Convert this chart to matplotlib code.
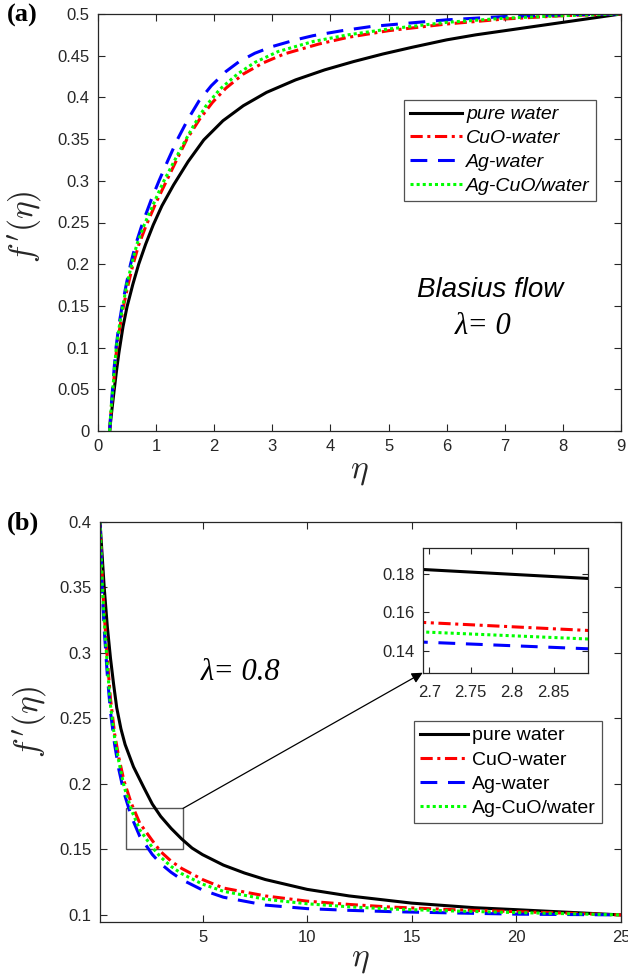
import matplotlib
matplotlib.use("Agg")
import matplotlib.pyplot as plt
from matplotlib.patches import Rectangle
from matplotlib.ticker import FuncFormatter

plt.rcParams['mathtext.fontset'] = 'cm'

# (a) Blasius flow, lambda = 0
eta_a_pw = [0.2, 0.24, 0.28, 0.32, 0.36, 0.43, 0.5, 0.6, 0.7, 0.82, 0.95, 1.1, 1.3, 1.55, 1.82, 2.15,
            2.5, 2.9, 3.4, 3.9, 4.4, 4.9, 5.4, 6.0, 6.5, 7.0, 7.5, 8.0, 8.5, 9.0]
fp_a_pw = [0.0, 0.026, 0.05, 0.073, 0.094, 0.125, 0.149, 0.176, 0.2, 0.224, 0.247, 0.27, 0.295, 0.323,
           0.349, 0.372, 0.39, 0.406, 0.421, 0.433, 0.443, 0.452, 0.46, 0.469, 0.475, 0.48, 0.485,
           0.49, 0.495, 0.5]
eta_a_cuo = [0.2, 0.23, 0.26, 0.29, 0.32, 0.38, 0.44, 0.52, 0.6, 0.7, 0.82, 1.0, 1.18, 1.36, 1.53, 1.75,
             1.97, 2.2, 2.5, 2.83, 3.2, 3.8, 4.3, 5.0, 5.5, 6.0, 7.0, 8.0, 9.0]
fp_a_cuo = [0.0, 0.03, 0.05, 0.075, 0.098, 0.126, 0.15, 0.176, 0.199, 0.223, 0.245, 0.274, 0.3, 0.326,
            0.35, 0.374, 0.394, 0.411, 0.428, 0.441, 0.452, 0.464, 0.472, 0.48, 0.484, 0.488, 0.494,
            0.498, 0.5]
eta_a_ag = [0.2, 0.23, 0.25, 0.28, 0.31, 0.36, 0.42, 0.49, 0.56, 0.65, 0.77, 0.92, 1.05, 1.2, 1.37, 1.55,
            1.74, 1.95, 2.2, 2.43, 2.7, 3.0, 3.4, 3.7, 4.2, 4.7, 5.5, 6.0, 7.0, 8.0, 9.0]
fp_a_ag = [0.0, 0.032, 0.05, 0.077, 0.1, 0.127, 0.152, 0.177, 0.2, 0.224, 0.25, 0.278, 0.3, 0.324,
           0.35, 0.374, 0.396, 0.414, 0.431, 0.443, 0.453, 0.461, 0.469, 0.474, 0.48, 0.485, 0.49,
           0.493, 0.497, 0.499, 0.5]
eta_a_hyb = [0.2, 0.23, 0.255, 0.285, 0.315, 0.37, 0.43, 0.5, 0.58, 0.67, 0.8, 0.96, 1.12, 1.3, 1.46, 1.66,
             1.86, 2.1, 2.4, 2.7, 3.1, 3.7, 4.3, 5.0, 5.5, 6.0, 7.0, 8.0, 9.0]
fp_a_hyb = [0.0, 0.031, 0.05, 0.076, 0.1, 0.127, 0.151, 0.177, 0.2, 0.224, 0.248, 0.273, 0.298, 0.322,
            0.343, 0.368, 0.39, 0.41, 0.428, 0.442, 0.455, 0.467, 0.475, 0.482, 0.486, 0.49, 0.495,
            0.498, 0.5]

# (b) lambda = 0.8
eta_b_pw = [0.1, 0.2, 0.3, 0.45, 0.6, 0.75, 0.9, 1.1, 1.3, 1.7, 2.2, 2.6, 3.0, 3.5, 4.0, 4.5, 5.0, 6.0,
            7.0, 8.0, 10.0, 12.0, 15.0, 18.0, 20.0, 22.5, 25.0]
fp_b_pw = [0.4, 0.375, 0.35, 0.32, 0.296, 0.276, 0.258, 0.242, 0.23, 0.213, 0.197, 0.1846, 0.1752, 0.166,
           0.158, 0.151, 0.146, 0.138, 0.132, 0.127, 0.1195, 0.1145, 0.109, 0.1055, 0.104, 0.102, 0.1]
eta_b = [0.1, 0.2, 0.3, 0.45, 0.6, 0.8, 1.0, 1.25, 1.6, 2.0, 2.6, 3.0, 3.5, 4.0, 5.0, 6.0, 8.0, 10.0,
         12.0, 14.0, 17.0, 20.0, 25.0]
fp_b_cuo = [0.4, 0.36, 0.33, 0.295, 0.265, 0.238, 0.22, 0.202, 0.185, 0.17, 0.1567, 0.1483, 0.141, 0.1355,
            0.127, 0.1205, 0.1145, 0.1105, 0.108, 0.106, 0.104, 0.1025, 0.1]
fp_b_ag = [0.4, 0.35, 0.318, 0.283, 0.255, 0.23, 0.211, 0.193, 0.175, 0.16, 0.1461, 0.1391, 0.1325, 0.127,
           0.119, 0.1135, 0.1075, 0.1048, 0.1035, 0.1025, 0.1015, 0.1006, 0.1]
fp_b_hyb = [0.4, 0.355, 0.325, 0.29, 0.26, 0.235, 0.217, 0.198, 0.18, 0.165, 0.1515, 0.1441, 0.137, 0.1315,
            0.1235, 0.118, 0.112, 0.1085, 0.1062, 0.1045, 0.103, 0.1018, 0.1]

labels = ['pure water', 'CuO-water', 'Ag-water', 'Ag-CuO/water']
colors = ['black', 'red', 'blue', '#00ff00']
styles = ['-', (0, (4, 1.5, 1, 1.5)), (0, (5.5, 3.5)), (0, (1, 1))]
lw = 2.2
axcol = '#262626'
fmt = FuncFormatter(lambda v, p: '{:g}'.format(round(v, 4)))


def style_axes(ax, size=12):
    ax.tick_params(direction='in', top=True, right=True, length=5, width=0.8,
                   colors=axcol, labelsize=size, pad=6)
    for lab in ax.get_xticklabels() + ax.get_yticklabels():
        lab.set_fontfamily('Liberation Sans')
    for s in ax.spines.values():
        s.set_color(axcol)
        s.set_linewidth(0.9)


fig = plt.figure(figsize=(6.28, 9.75), dpi=100)

# ---------- panel (a) ----------
ax1 = fig.add_axes([98 / 628, 1 - 431 / 975, 523 / 628, 417 / 975])
series_a = [(eta_a_pw, fp_a_pw), (eta_a_cuo, fp_a_cuo), (eta_a_ag, fp_a_ag), (eta_a_hyb, fp_a_hyb)]
for (x, y), lab, c, ls in zip(series_a, labels, colors, styles):
    ax1.plot(x, y, color=c, linestyle=ls, lw=lw, label=lab)
ax1.set_xlim(0, 9)
ax1.set_ylim(0, 0.5)
ax1.set_xticks(range(0, 10))
ax1.set_yticks([i * 0.05 for i in range(11)])
ax1.xaxis.set_major_formatter(fmt)
ax1.yaxis.set_major_formatter(fmt)
style_axes(ax1)
ax1.set_ylabel(r"$f\,'(\eta)$", fontsize=24, color=axcol)
ax1.yaxis.set_label_coords(-0.105, 0.49)
ax1.set_xlabel(r"$\eta$", fontsize=24, color=axcol)
ax1.xaxis.set_label_coords(0.5, -0.055)
leg1 = ax1.legend(loc='upper left', bbox_to_anchor=(404 / 628, 1 - 100 / 975),
                  bbox_transform=fig.transFigure, borderaxespad=0, borderpad=0.3,
                  handlelength=2.7, handletextpad=0.2, labelspacing=0.32,
                  fancybox=False, edgecolor=axcol,
                  prop={'family': 'Liberation Sans', 'style': 'italic', 'size': 14})
leg1.get_frame().set_linewidth(0.9)
ax1.text(490 / 628, 1 - 290 / 975, 'Blasius flow', transform=fig.transFigure,
         ha='center', va='center', fontsize=20, style='italic', family='Liberation Sans')
ax1.text(483 / 628, 1 - 326 / 975, 'λ= 0', transform=fig.transFigure,
         ha='center', va='center', fontsize=22, style='italic', family='Liberation Serif')
fig.text(7 / 628, 1 - 15 / 975, '(a)', ha='left', va='center', fontsize=19,
         fontweight='bold', family='Liberation Serif')

# ---------- panel (b) ----------
ax2 = fig.add_axes([100 / 628, 1 - 922 / 975, 521 / 628, 400.3 / 975])
series_b = [(eta_b_pw, fp_b_pw), (eta_b, fp_b_cuo), (eta_b, fp_b_ag), (eta_b, fp_b_hyb)]
for (x, y), lab, c, ls in zip(series_b, labels, colors, styles):
    ax2.plot(x, y, color=c, linestyle=ls, lw=lw, label=lab)
ax2.set_xlim(0.1, 25)
ax2.set_ylim(0.0946, 0.4)
ax2.set_xticks([5, 10, 15, 20, 25])
ax2.set_yticks([0.1, 0.15, 0.2, 0.25, 0.3, 0.35, 0.4])
ax2.xaxis.set_major_formatter(fmt)
ax2.yaxis.set_major_formatter(fmt)
style_axes(ax2)
ax2.set_ylabel(r"$f\,'(\eta)$", fontsize=24, color=axcol)
ax2.yaxis.set_label_coords(-0.1, 0.5)
ax2.set_xlabel(r"$\eta$", fontsize=24, color=axcol)
ax2.xaxis.set_label_coords(0.5, -0.05)
leg2 = ax2.legend(loc='upper left', bbox_to_anchor=(414 / 628, 1 - 721 / 975),
                  bbox_transform=fig.transFigure, borderaxespad=0, borderpad=0.3,
                  handlelength=2.5, handletextpad=0.2, labelspacing=0.34,
                  fancybox=False, edgecolor=axcol,
                  prop={'family': 'Liberation Sans', 'size': 14})
leg2.get_frame().set_linewidth(0.9)
ax2.text(241 / 628, 1 - 673 / 975, 'λ= 0.8', transform=fig.transFigure,
         ha='center', va='center', fontsize=22, style='italic', family='Liberation Serif')
fig.text(7 / 628, 1 - 523 / 975, '(b)', ha='left', va='center', fontsize=19,
         fontweight='bold', family='Liberation Serif')

# zoom box and inset
ax2.add_patch(Rectangle((1.35, 0.15), 4.07 - 1.35, 0.1813 - 0.15, fill=False,
                        edgecolor='#555555', lw=1))
axins = fig.add_axes([422.7 / 628, 1 - 672.7 / 975, 165.6 / 628, 124.4 / 975])
for (x, y), c, ls in zip(series_b, colors, styles):
    axins.plot(x, y, color=c, linestyle=ls, lw=lw)
axins.set_xlim(2.692, 2.892)
axins.set_ylim(0.1285, 0.1935)
axins.set_xticks([2.7, 2.75, 2.8, 2.85])
axins.set_yticks([0.14, 0.16, 0.18])
axins.xaxis.set_major_formatter(fmt)
axins.yaxis.set_major_formatter(fmt)
style_axes(axins)
axins.tick_params(length=4)
axins.tick_params(axis='x', pad=9)
ax2.annotate('', xy=(0, 0), xycoords=axins.transAxes, xytext=(4.07, 0.1813),
             textcoords='data',
             arrowprops=dict(arrowstyle='-|>', color='black', lw=0.9,
                             mutation_scale=16, shrinkA=0, shrinkB=0))

fig.savefig('out.png', dpi=100)
